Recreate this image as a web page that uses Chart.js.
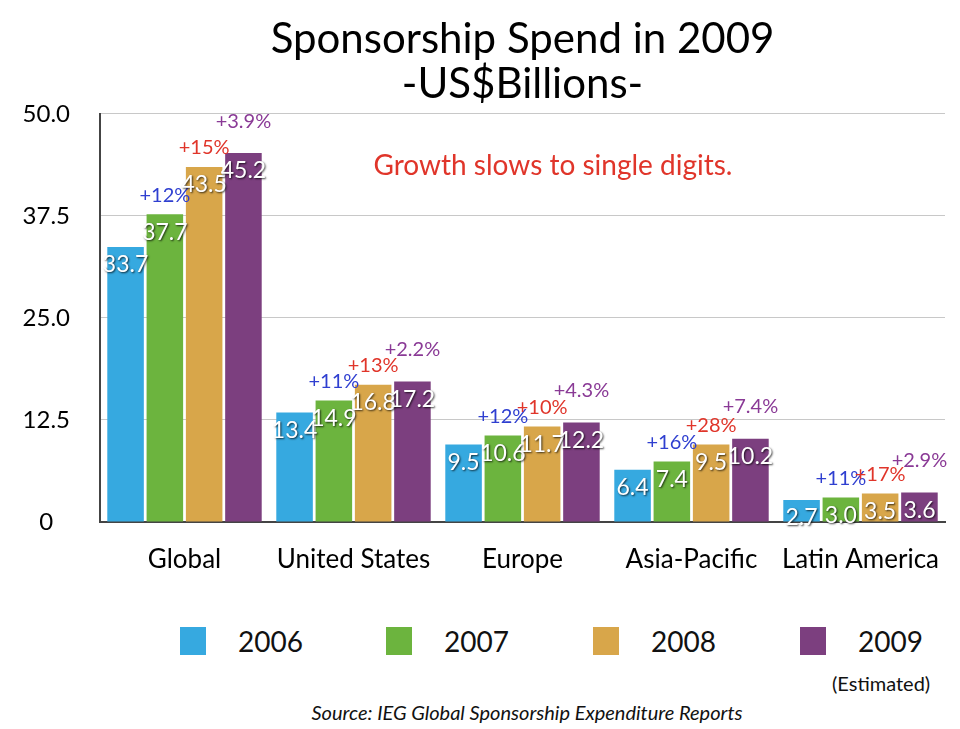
<!DOCTYPE html>
<html>
<head>
<meta charset="utf-8">
<script src="https://cdn.jsdelivr.net/npm/chart.js@4"></script>
<style>
  html, body { margin: 0; padding: 0; background: #fff; }
  body { width: 960px; height: 729px; position: relative; overflow: hidden; font-family: "Lato", sans-serif; }
  #wrap { position: absolute; left: 0; top: 0; width: 960px; height: 600px; }
  .lg { position: absolute; top: 624px; display: flex; align-items: center; font-size: 28px; color: #111; }
  .lg span.box { display: inline-block; width: 26px; height: 28px; margin-right: 32px; }
  #est { position: absolute; left: 832px; top: 671px; font-size: 20px; color: #111; }
  #src { position: absolute; left: 0; width: 1054px; top: 700px; text-align: center; font-size: 20px; font-style: italic; color: #111; }
</style>
</head>
<body>
<div id="wrap"><canvas id="chart" width="960" height="600"></canvas></div>
<div class="lg" style="left:180px"><span class="box" style="background:#36a9e0"></span>2006</div>
<div class="lg" style="left:386px"><span class="box" style="background:#6cb43e"></span>2007</div>
<div class="lg" style="left:593px"><span class="box" style="background:#d8a64a"></span>2008</div>
<div class="lg" style="left:800px"><span class="box" style="background:#7c3f7f"></span>2009</div>
<div id="est">(Estimated)</div>
<div id="src">Source: IEG Global Sponsorship Expenditure Reports</div>
<script>
  const regions = ["Global", "United States", "Europe", "Asia-Pacific", "Latin America"];
  const years = ["2006", "2007", "2008", "2009"];
  const spend2006 = [33.7, 13.4, 9.5, 6.4, 2.7];
  const spend2007 = [37.7, 14.9, 10.6, 7.4, 3.0];
  const spend2008 = [43.5, 16.8, 11.7, 9.5, 3.5];
  const spend2009 = [45.2, 17.2, 12.2, 10.2, 3.6];
  const growth2007 = ["+12%", "+11%", "+12%", "+16%", "+11%"];
  const growth2008 = ["+15%", "+13%", "+10%", "+28%", "+17%"];
  const growth2009 = ["+3.9%", "+2.2%", "+4.3%", "+7.4%", "+2.9%"];
  const yTicks = [0, 12.5, 25, 37.5, 50];
  const yTickLabels = ["0", "12.5", "25.0", "37.5", "50.0"];

  const colors = ["#36a9e0", "#6cb43e", "#d8a64a", "#7c3f7f"];
  const growthColors = [null, "#2f3fd0", "#e0352a", "#8a3a96"];
  const growthSets = [null, growth2007, growth2008, growth2009];
  const series = [spend2006, spend2007, spend2008, spend2009];

  const labelPlugin = {
    id: "barLabels",
    afterDatasetsDraw(chart) {
      const ctx = chart.ctx;
      ctx.save();
      ctx.textAlign = "center";
      ctx.textBaseline = "middle";
      chart.data.datasets.forEach((ds, di) => {
        const meta = chart.getDatasetMeta(di);
        meta.data.forEach((bar, i) => {
          // value inside top of bar
          ctx.font = "23px Lato, sans-serif";
          ctx.fillStyle = "#fff";
          ctx.shadowColor = "rgba(0,0,0,0.75)";
          ctx.shadowOffsetX = 1;
          ctx.shadowOffsetY = 1;
          ctx.shadowBlur = 2;
          ctx.fillText(ds.data[i].toFixed(1), bar.x, bar.y + 18);
          ctx.shadowColor = "transparent";
          // growth above bar
          const g = growthSets[di];
          if (g) {
            ctx.font = "20px Lato, sans-serif";
            ctx.fillStyle = growthColors[di];
            ctx.fillText(g[i], bar.x, bar.y - (di === 3 ? 32 : 19));
          }
        });
      });
      ctx.font = "28px Lato, sans-serif";
      ctx.fillStyle = "#e0352a";
      ctx.fillText("Growth slows to single digits.", 553, 166);
      ctx.restore();
    }
  };

  new Chart(document.getElementById("chart"), {
    type: "bar",
    data: {
      labels: regions,
      datasets: years.map((y, i) => ({
        label: y,
        data: series[i],
        backgroundColor: colors[i],
        categoryPercentage: 0.93,
        barPercentage: 0.93,
      })),
    },
    options: {
      responsive: false,
      animation: false,
      layout: { padding: { left: 0, right: 15, top: 0, bottom: 0 } },
      plugins: {
        legend: { display: false },
        tooltip: { enabled: false },
        title: {
          display: true,
          fullSize: false,
          text: ["Sponsorship Spend in 2009", "-US$Billions-"],
          color: "#000",
          font: { family: "Lato, sans-serif", size: 42, weight: "normal", lineHeight: 1.07 },
          padding: { top: 17, bottom: 7 },
        },
      },
      scales: {
        x: {
          grid: { display: false },
          border: { display: true, color: "#444", width: 2 },
          ticks: {
            color: "#000",
            font: { family: "Lato, sans-serif", size: 26 },
            padding: 14,
            maxRotation: 0,
            minRotation: 0,
            autoSkip: false,
          },
          afterFit(scale) { scale.height = 78; },
        },
        y: {
          min: 0,
          max: 50,
          afterBuildTicks(scale) { scale.ticks = yTicks.map((v) => ({ value: v })); },
          grid: { color: "#c8c8c8", drawTicks: false },
          border: { display: true, color: "#444", width: 2 },
          ticks: {
            color: "#000",
            font: { family: "Lato, sans-serif", size: 24 },
            padding: 30,
            crossAlign: "center",
            callback: (v) => yTickLabels[yTicks.indexOf(v)],
          },
          afterFit(scale) { scale.width = 100; },
        },
      },
    },
    plugins: [labelPlugin],
  });
</script>
</body>
</html>
